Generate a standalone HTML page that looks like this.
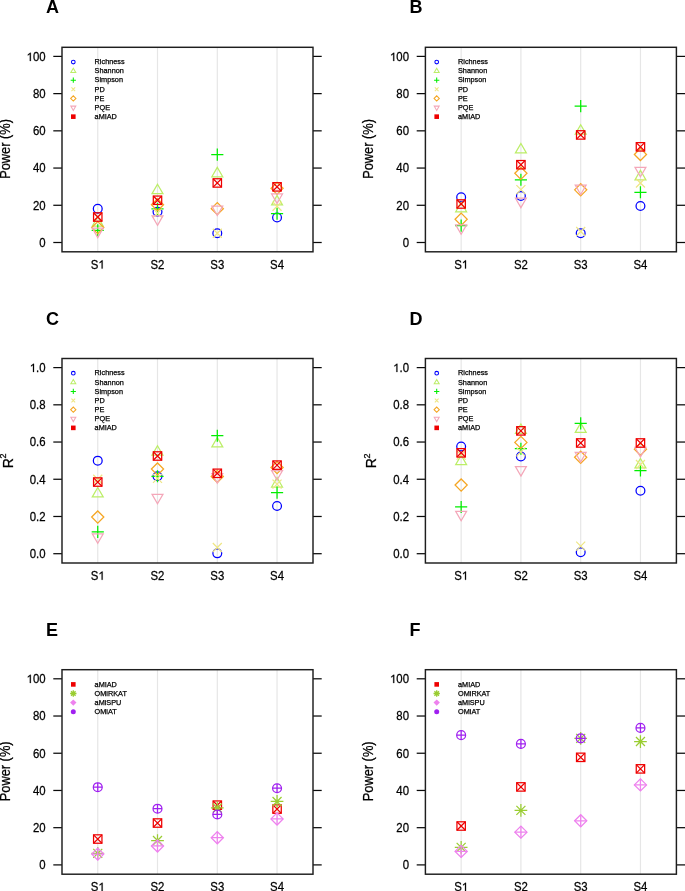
<!DOCTYPE html>
<html><head><meta charset="utf-8"><title>Figure</title>
<style>html,body{margin:0;padding:0;background:#fff;}body{width:685px;height:891px;overflow:hidden;}svg{display:block;will-change:transform;}text{fill:#000;}text,.o{stroke:#000;stroke-width:0.25px;vector-effect:non-scaling-stroke;}text[font-weight=bold]{stroke:none;}</style></head><body>
<svg width="685" height="891" viewBox="0 0 685 891" font-family='"Liberation Sans", sans-serif' fill="#000">
<line x1="97.75" y1="47.3" x2="97.75" y2="251.8" stroke="#E6E6E6" stroke-width="1.2"/>
<line x1="157.5" y1="47.3" x2="157.5" y2="251.8" stroke="#E6E6E6" stroke-width="1.2"/>
<line x1="217.3" y1="47.3" x2="217.3" y2="251.8" stroke="#E6E6E6" stroke-width="1.2"/>
<line x1="277.05" y1="47.3" x2="277.05" y2="251.8" stroke="#E6E6E6" stroke-width="1.2"/>
<line x1="53.3" y1="242.5" x2="62" y2="242.5" stroke="#0a0a0a" stroke-width="1.25"/>
<line x1="313" y1="242.5" x2="321.7" y2="242.5" stroke="#0a0a0a" stroke-width="1.25"/>
<text transform="translate(39.26 247) scale(0.95 1)" font-size="12">0</text>
<line x1="53.3" y1="205.28" x2="62" y2="205.28" stroke="#0a0a0a" stroke-width="1.25"/>
<line x1="313" y1="205.28" x2="321.7" y2="205.28" stroke="#0a0a0a" stroke-width="1.25"/>
<text transform="translate(32.92 210) scale(0.95 1)" font-size="12">20</text>
<line x1="53.3" y1="168.06" x2="62" y2="168.06" stroke="#0a0a0a" stroke-width="1.25"/>
<line x1="313" y1="168.06" x2="321.7" y2="168.06" stroke="#0a0a0a" stroke-width="1.25"/>
<text transform="translate(32.92 172) scale(0.95 1)" font-size="12">40</text>
<line x1="53.3" y1="130.84" x2="62" y2="130.84" stroke="#0a0a0a" stroke-width="1.25"/>
<line x1="313" y1="130.84" x2="321.7" y2="130.84" stroke="#0a0a0a" stroke-width="1.25"/>
<text transform="translate(32.92 135) scale(0.95 1)" font-size="12">60</text>
<line x1="53.3" y1="93.62" x2="62" y2="93.62" stroke="#0a0a0a" stroke-width="1.25"/>
<line x1="313" y1="93.62" x2="321.7" y2="93.62" stroke="#0a0a0a" stroke-width="1.25"/>
<text transform="translate(32.92 98) scale(0.95 1)" font-size="12">80</text>
<line x1="53.3" y1="56.4" x2="62" y2="56.4" stroke="#0a0a0a" stroke-width="1.25"/>
<line x1="313" y1="56.4" x2="321.7" y2="56.4" stroke="#0a0a0a" stroke-width="1.25"/>
<path class="o" transform="translate(26.58 61) scale(0.005566 -0.005859)" d="M583 0L583 1147L223 930L223 1104L647 1409L763 1409L763 0Z"/><text transform="translate(32.92 61) scale(0.95 1)" font-size="12">00</text>
<text transform="translate(90.78 268.6) scale(0.95 1)" font-size="12">S</text><path class="o" transform="translate(98.38 268.6) scale(0.005566 -0.005859)" d="M583 0L583 1147L223 930L223 1104L647 1409L763 1409L763 0Z"/>
<text transform="translate(150.53 268.6) scale(0.95 1)" font-size="12">S2</text>
<text transform="translate(210.33 268.6) scale(0.95 1)" font-size="12">S3</text>
<text transform="translate(270.08 268.6) scale(0.95 1)" font-size="12">S4</text>
<text transform="translate(9.5 148.95) rotate(-90) scale(0.915 1)" font-size="14" text-anchor="middle">Power (%)</text>
<text x="46" y="13.3" font-size="18" font-weight="bold">A</text>
<circle cx="73.3" cy="62" r="1.85" stroke="#0000FF" stroke-width="1.05" fill="none"/>
<text x="94.6" y="64.2" font-size="7.3">Richness</text>
<polygon points="73.3,68.23 75.79,72.55 70.81,72.55" stroke="#BCEE68" stroke-width="1.05" fill="none"/>
<text x="94.6" y="73.31" font-size="7.3">Shannon</text>
<path d="M70.68 80.22H75.92M73.3 77.6V82.84" stroke="#00EE00" stroke-width="1.05" fill="none"/>
<text x="94.6" y="82.42" font-size="7.3">Simpson</text>
<path d="M71.45 87.48L75.15 91.18M71.45 91.18L75.15 87.48" stroke="#EEE685" stroke-width="1.05" fill="none"/>
<text x="94.6" y="91.53" font-size="7.3">PD</text>
<polygon points="70.68,98.44 73.3,95.82 75.92,98.44 73.3,101.06" stroke="#F5A623" stroke-width="1.05" fill="none"/>
<text x="94.6" y="100.64" font-size="7.3">PE</text>
<polygon points="73.3,110.43 75.79,106.11 70.81,106.11" stroke="#F4A7B9" stroke-width="1.05" fill="none"/>
<text x="94.6" y="109.75" font-size="7.3">PQE</text>
<rect x="71" y="114.36" width="4.6" height="4.6" fill="#EE0000"/>
<text x="94.6" y="118.86" font-size="7.3">aMIAD</text>
<circle cx="97.75" cy="208.82" r="4.4" stroke="#0000FF" stroke-width="1.25" fill="none"/>
<circle cx="157.5" cy="211.79" r="4.4" stroke="#0000FF" stroke-width="1.25" fill="none"/>
<circle cx="217.3" cy="233.19" r="4.4" stroke="#0000FF" stroke-width="1.25" fill="none"/>
<circle cx="277.05" cy="217.56" r="4.4" stroke="#0000FF" stroke-width="1.25" fill="none"/>
<polygon points="97.75,216.66 103.2,226.11 92.3,226.11" stroke="#BCEE68" stroke-width="1.25" fill="none"/>
<polygon points="157.5,184.28 162.95,193.73 152.05,193.73" stroke="#BCEE68" stroke-width="1.25" fill="none"/>
<polygon points="217.3,167.34 222.75,176.79 211.85,176.79" stroke="#BCEE68" stroke-width="1.25" fill="none"/>
<polygon points="277.05,195.45 282.5,204.89 271.6,204.89" stroke="#BCEE68" stroke-width="1.25" fill="none"/>
<path d="M91.67 230.4H103.83M97.75 224.32V236.48" stroke="#00EE00" stroke-width="1.25" fill="none"/>
<path d="M151.42 208.82H163.58M157.5 202.73V214.9" stroke="#00EE00" stroke-width="1.25" fill="none"/>
<path d="M211.22 154.66H223.38M217.3 148.58V160.74" stroke="#00EE00" stroke-width="1.25" fill="none"/>
<path d="M270.97 213.65H283.13M277.05 207.57V219.74" stroke="#00EE00" stroke-width="1.25" fill="none"/>
<path d="M93.25 212.5L102.25 221.5M93.25 221.5L102.25 212.5" stroke="#EEE685" stroke-width="1.25" fill="none"/>
<path d="M153 208.6L162 217.6M153 217.6L162 208.6" stroke="#EEE685" stroke-width="1.25" fill="none"/>
<path d="M212.8 228.69L221.8 237.69M212.8 237.69L221.8 228.69" stroke="#EEE685" stroke-width="1.25" fill="none"/>
<path d="M272.55 201.71L281.55 210.71M272.55 210.71L281.55 201.71" stroke="#EEE685" stroke-width="1.25" fill="none"/>
<polygon points="91.67,227.61 97.75,221.53 103.83,227.61 97.75,233.69" stroke="#F5A623" stroke-width="1.25" fill="none"/>
<polygon points="151.42,204.72 157.5,198.64 163.58,204.72 157.5,210.8" stroke="#F5A623" stroke-width="1.25" fill="none"/>
<polygon points="211.22,208.63 217.3,202.55 223.38,208.63 217.3,214.71" stroke="#F5A623" stroke-width="1.25" fill="none"/>
<polygon points="270.97,188.34 277.05,182.26 283.13,188.34 277.05,194.43" stroke="#F5A623" stroke-width="1.25" fill="none"/>
<polygon points="97.75,237.63 103.2,228.18 92.3,228.18" stroke="#F4A7B9" stroke-width="1.25" fill="none"/>
<polygon points="157.5,225.35 162.95,215.9 152.05,215.9" stroke="#F4A7B9" stroke-width="1.25" fill="none"/>
<polygon points="217.3,215.49 222.75,206.04 211.85,206.04" stroke="#F4A7B9" stroke-width="1.25" fill="none"/>
<polygon points="277.05,203.39 282.5,193.94 271.6,193.94" stroke="#F4A7B9" stroke-width="1.25" fill="none"/>
<rect x="93.55" y="212.8" width="8.4" height="8.4" stroke="#EE0000" stroke-width="1.25" fill="none"/><path d="M93.55 212.8L101.95 221.2M93.55 221.2L101.95 212.8" stroke="#EE0000" stroke-width="1.25" fill="none"/>
<rect x="153.3" y="196.06" width="8.4" height="8.4" stroke="#EE0000" stroke-width="1.25" fill="none"/><path d="M153.3 196.06L161.7 204.46M153.3 204.46L161.7 196.06" stroke="#EE0000" stroke-width="1.25" fill="none"/>
<rect x="213.1" y="178.75" width="8.4" height="8.4" stroke="#EE0000" stroke-width="1.25" fill="none"/><path d="M213.1 178.75L221.5 187.15M213.1 187.15L221.5 178.75" stroke="#EE0000" stroke-width="1.25" fill="none"/>
<rect x="272.85" y="182.66" width="8.4" height="8.4" stroke="#EE0000" stroke-width="1.25" fill="none"/><path d="M272.85 182.66L281.25 191.06M272.85 191.06L281.25 182.66" stroke="#EE0000" stroke-width="1.25" fill="none"/>
<rect x="62" y="47.3" width="251" height="204.5" fill="none" stroke="#1e1e1e" stroke-width="1.45"/>
<line x1="461.15" y1="47.3" x2="461.15" y2="251.8" stroke="#E6E6E6" stroke-width="1.2"/>
<line x1="520.9" y1="47.3" x2="520.9" y2="251.8" stroke="#E6E6E6" stroke-width="1.2"/>
<line x1="580.7" y1="47.3" x2="580.7" y2="251.8" stroke="#E6E6E6" stroke-width="1.2"/>
<line x1="640.45" y1="47.3" x2="640.45" y2="251.8" stroke="#E6E6E6" stroke-width="1.2"/>
<line x1="416.7" y1="242.5" x2="425.4" y2="242.5" stroke="#0a0a0a" stroke-width="1.25"/>
<line x1="676.4" y1="242.5" x2="685.1" y2="242.5" stroke="#0a0a0a" stroke-width="1.25"/>
<text transform="translate(402.66 247) scale(0.95 1)" font-size="12">0</text>
<line x1="416.7" y1="205.28" x2="425.4" y2="205.28" stroke="#0a0a0a" stroke-width="1.25"/>
<line x1="676.4" y1="205.28" x2="685.1" y2="205.28" stroke="#0a0a0a" stroke-width="1.25"/>
<text transform="translate(396.32 210) scale(0.95 1)" font-size="12">20</text>
<line x1="416.7" y1="168.06" x2="425.4" y2="168.06" stroke="#0a0a0a" stroke-width="1.25"/>
<line x1="676.4" y1="168.06" x2="685.1" y2="168.06" stroke="#0a0a0a" stroke-width="1.25"/>
<text transform="translate(396.32 172) scale(0.95 1)" font-size="12">40</text>
<line x1="416.7" y1="130.84" x2="425.4" y2="130.84" stroke="#0a0a0a" stroke-width="1.25"/>
<line x1="676.4" y1="130.84" x2="685.1" y2="130.84" stroke="#0a0a0a" stroke-width="1.25"/>
<text transform="translate(396.32 135) scale(0.95 1)" font-size="12">60</text>
<line x1="416.7" y1="93.62" x2="425.4" y2="93.62" stroke="#0a0a0a" stroke-width="1.25"/>
<line x1="676.4" y1="93.62" x2="685.1" y2="93.62" stroke="#0a0a0a" stroke-width="1.25"/>
<text transform="translate(396.32 98) scale(0.95 1)" font-size="12">80</text>
<line x1="416.7" y1="56.4" x2="425.4" y2="56.4" stroke="#0a0a0a" stroke-width="1.25"/>
<line x1="676.4" y1="56.4" x2="685.1" y2="56.4" stroke="#0a0a0a" stroke-width="1.25"/>
<path class="o" transform="translate(389.98 61) scale(0.005566 -0.005859)" d="M583 0L583 1147L223 930L223 1104L647 1409L763 1409L763 0Z"/><text transform="translate(396.32 61) scale(0.95 1)" font-size="12">00</text>
<text transform="translate(454.18 268.6) scale(0.95 1)" font-size="12">S</text><path class="o" transform="translate(461.78 268.6) scale(0.005566 -0.005859)" d="M583 0L583 1147L223 930L223 1104L647 1409L763 1409L763 0Z"/>
<text transform="translate(513.93 268.6) scale(0.95 1)" font-size="12">S2</text>
<text transform="translate(573.73 268.6) scale(0.95 1)" font-size="12">S3</text>
<text transform="translate(633.48 268.6) scale(0.95 1)" font-size="12">S4</text>
<text transform="translate(372.9 148.95) rotate(-90) scale(0.915 1)" font-size="14" text-anchor="middle">Power (%)</text>
<text x="409.4" y="13.3" font-size="18" font-weight="bold">B</text>
<circle cx="436.7" cy="62" r="1.85" stroke="#0000FF" stroke-width="1.05" fill="none"/>
<text x="458" y="64.2" font-size="7.3">Richness</text>
<polygon points="436.7,68.23 439.19,72.55 434.21,72.55" stroke="#BCEE68" stroke-width="1.05" fill="none"/>
<text x="458" y="73.31" font-size="7.3">Shannon</text>
<path d="M434.08 80.22H439.32M436.7 77.6V82.84" stroke="#00EE00" stroke-width="1.05" fill="none"/>
<text x="458" y="82.42" font-size="7.3">Simpson</text>
<path d="M434.85 87.48L438.55 91.18M434.85 91.18L438.55 87.48" stroke="#EEE685" stroke-width="1.05" fill="none"/>
<text x="458" y="91.53" font-size="7.3">PD</text>
<polygon points="434.08,98.44 436.7,95.82 439.32,98.44 436.7,101.06" stroke="#F5A623" stroke-width="1.05" fill="none"/>
<text x="458" y="100.64" font-size="7.3">PE</text>
<polygon points="436.7,110.43 439.19,106.11 434.21,106.11" stroke="#F4A7B9" stroke-width="1.05" fill="none"/>
<text x="458" y="109.75" font-size="7.3">PQE</text>
<rect x="434.4" y="114.36" width="4.6" height="4.6" fill="#EE0000"/>
<text x="458" y="118.86" font-size="7.3">aMIAD</text>
<circle cx="461.15" cy="197.28" r="4.4" stroke="#0000FF" stroke-width="1.25" fill="none"/>
<circle cx="520.9" cy="195.97" r="4.4" stroke="#0000FF" stroke-width="1.25" fill="none"/>
<circle cx="580.7" cy="233.19" r="4.4" stroke="#0000FF" stroke-width="1.25" fill="none"/>
<circle cx="640.45" cy="206.02" r="4.4" stroke="#0000FF" stroke-width="1.25" fill="none"/>
<polygon points="461.15,202.33 466.6,211.78 455.7,211.78" stroke="#BCEE68" stroke-width="1.25" fill="none"/>
<polygon points="520.9,143.52 526.35,152.97 515.45,152.97" stroke="#BCEE68" stroke-width="1.25" fill="none"/>
<polygon points="580.7,124.73 586.15,134.18 575.25,134.18" stroke="#BCEE68" stroke-width="1.25" fill="none"/>
<polygon points="640.45,170.32 645.9,179.77 635,179.77" stroke="#BCEE68" stroke-width="1.25" fill="none"/>
<path d="M455.07 225.56H467.23M461.15 219.48V231.65" stroke="#00EE00" stroke-width="1.25" fill="none"/>
<path d="M514.82 179.78H526.98M520.9 173.7V185.87" stroke="#00EE00" stroke-width="1.25" fill="none"/>
<path d="M574.62 106.09H586.78M580.7 100.01V112.17" stroke="#00EE00" stroke-width="1.25" fill="none"/>
<path d="M634.37 192.25H646.53M640.45 186.17V198.33" stroke="#00EE00" stroke-width="1.25" fill="none"/>
<path d="M456.65 199.48L465.65 208.48M456.65 208.48L465.65 199.48" stroke="#EEE685" stroke-width="1.25" fill="none"/>
<path d="M516.4 185.15L525.4 194.15M516.4 194.15L525.4 185.15" stroke="#EEE685" stroke-width="1.25" fill="none"/>
<path d="M576.2 227.02L585.2 236.02M576.2 236.02L585.2 227.02" stroke="#EEE685" stroke-width="1.25" fill="none"/>
<path d="M635.95 178.45L644.95 187.45M635.95 187.45L644.95 178.45" stroke="#EEE685" stroke-width="1.25" fill="none"/>
<polygon points="455.07,219.24 461.15,213.16 467.23,219.24 461.15,225.32" stroke="#F5A623" stroke-width="1.25" fill="none"/>
<polygon points="514.82,173.27 520.9,167.19 526.98,173.27 520.9,179.35" stroke="#F5A623" stroke-width="1.25" fill="none"/>
<polygon points="574.62,189.83 580.7,183.75 586.78,189.83 580.7,195.91" stroke="#F5A623" stroke-width="1.25" fill="none"/>
<polygon points="634.37,154.47 640.45,148.39 646.53,154.47 640.45,160.56" stroke="#F5A623" stroke-width="1.25" fill="none"/>
<polygon points="461.15,234.28 466.6,224.84 455.7,224.84" stroke="#F4A7B9" stroke-width="1.25" fill="none"/>
<polygon points="520.9,207.67 526.35,198.22 515.45,198.22" stroke="#F4A7B9" stroke-width="1.25" fill="none"/>
<polygon points="580.7,194.46 586.15,185.01 575.25,185.01" stroke="#F4A7B9" stroke-width="1.25" fill="none"/>
<polygon points="640.45,176.78 645.9,167.33 635,167.33" stroke="#F4A7B9" stroke-width="1.25" fill="none"/>
<rect x="456.95" y="199.78" width="8.4" height="8.4" stroke="#EE0000" stroke-width="1.25" fill="none"/><path d="M456.95 199.78L465.35 208.18M456.95 208.18L465.35 199.78" stroke="#EE0000" stroke-width="1.25" fill="none"/>
<rect x="516.7" y="160.51" width="8.4" height="8.4" stroke="#EE0000" stroke-width="1.25" fill="none"/><path d="M516.7 160.51L525.1 168.91M516.7 168.91L525.1 160.51" stroke="#EE0000" stroke-width="1.25" fill="none"/>
<rect x="576.5" y="130.73" width="8.4" height="8.4" stroke="#EE0000" stroke-width="1.25" fill="none"/><path d="M576.5 130.73L584.9 139.13M576.5 139.13L584.9 130.73" stroke="#EE0000" stroke-width="1.25" fill="none"/>
<rect x="636.25" y="142.64" width="8.4" height="8.4" stroke="#EE0000" stroke-width="1.25" fill="none"/><path d="M636.25 142.64L644.65 151.04M636.25 151.04L644.65 142.64" stroke="#EE0000" stroke-width="1.25" fill="none"/>
<rect x="425.4" y="47.3" width="251" height="204.5" fill="none" stroke="#1e1e1e" stroke-width="1.45"/>
<line x1="97.75" y1="358.5" x2="97.75" y2="563" stroke="#E6E6E6" stroke-width="1.2"/>
<line x1="157.5" y1="358.5" x2="157.5" y2="563" stroke="#E6E6E6" stroke-width="1.2"/>
<line x1="217.3" y1="358.5" x2="217.3" y2="563" stroke="#E6E6E6" stroke-width="1.2"/>
<line x1="277.05" y1="358.5" x2="277.05" y2="563" stroke="#E6E6E6" stroke-width="1.2"/>
<line x1="53.3" y1="553.7" x2="62" y2="553.7" stroke="#0a0a0a" stroke-width="1.25"/>
<line x1="313" y1="553.7" x2="321.7" y2="553.7" stroke="#0a0a0a" stroke-width="1.25"/>
<text transform="translate(29.75 558) scale(0.95 1)" font-size="12">0.0</text>
<line x1="53.3" y1="516.48" x2="62" y2="516.48" stroke="#0a0a0a" stroke-width="1.25"/>
<line x1="313" y1="516.48" x2="321.7" y2="516.48" stroke="#0a0a0a" stroke-width="1.25"/>
<text transform="translate(29.75 521) scale(0.95 1)" font-size="12">0.2</text>
<line x1="53.3" y1="479.26" x2="62" y2="479.26" stroke="#0a0a0a" stroke-width="1.25"/>
<line x1="313" y1="479.26" x2="321.7" y2="479.26" stroke="#0a0a0a" stroke-width="1.25"/>
<text transform="translate(29.75 484) scale(0.95 1)" font-size="12">0.4</text>
<line x1="53.3" y1="442.04" x2="62" y2="442.04" stroke="#0a0a0a" stroke-width="1.25"/>
<line x1="313" y1="442.04" x2="321.7" y2="442.04" stroke="#0a0a0a" stroke-width="1.25"/>
<text transform="translate(29.75 446) scale(0.95 1)" font-size="12">0.6</text>
<line x1="53.3" y1="404.82" x2="62" y2="404.82" stroke="#0a0a0a" stroke-width="1.25"/>
<line x1="313" y1="404.82" x2="321.7" y2="404.82" stroke="#0a0a0a" stroke-width="1.25"/>
<text transform="translate(29.75 409) scale(0.95 1)" font-size="12">0.8</text>
<line x1="53.3" y1="367.6" x2="62" y2="367.6" stroke="#0a0a0a" stroke-width="1.25"/>
<line x1="313" y1="367.6" x2="321.7" y2="367.6" stroke="#0a0a0a" stroke-width="1.25"/>
<path class="o" transform="translate(29.75 372) scale(0.005566 -0.005859)" d="M583 0L583 1147L223 930L223 1104L647 1409L763 1409L763 0Z"/><text transform="translate(36.09 372) scale(0.95 1)" font-size="12">.0</text>
<text transform="translate(90.78 579.8) scale(0.95 1)" font-size="12">S</text><path class="o" transform="translate(98.38 579.8) scale(0.005566 -0.005859)" d="M583 0L583 1147L223 930L223 1104L647 1409L763 1409L763 0Z"/>
<text transform="translate(150.53 579.8) scale(0.95 1)" font-size="12">S2</text>
<text transform="translate(210.33 579.8) scale(0.95 1)" font-size="12">S3</text>
<text transform="translate(270.08 579.8) scale(0.95 1)" font-size="12">S4</text>
<text transform="translate(13 468.15) rotate(-90)" font-size="14">R</text>
<text transform="translate(6.3 458.45) rotate(-90)" font-size="9">2</text>
<text x="46" y="324.5" font-size="18" font-weight="bold">C</text>
<circle cx="73.3" cy="373.2" r="1.85" stroke="#0000FF" stroke-width="1.05" fill="none"/>
<text x="94.6" y="375.4" font-size="7.3">Richness</text>
<polygon points="73.3,379.43 75.79,383.75 70.81,383.75" stroke="#BCEE68" stroke-width="1.05" fill="none"/>
<text x="94.6" y="384.51" font-size="7.3">Shannon</text>
<path d="M70.68 391.42H75.92M73.3 388.8V394.04" stroke="#00EE00" stroke-width="1.05" fill="none"/>
<text x="94.6" y="393.62" font-size="7.3">Simpson</text>
<path d="M71.45 398.68L75.15 402.38M71.45 402.38L75.15 398.68" stroke="#EEE685" stroke-width="1.05" fill="none"/>
<text x="94.6" y="402.73" font-size="7.3">PD</text>
<polygon points="70.68,409.64 73.3,407.02 75.92,409.64 73.3,412.26" stroke="#F5A623" stroke-width="1.05" fill="none"/>
<text x="94.6" y="411.84" font-size="7.3">PE</text>
<polygon points="73.3,421.63 75.79,417.31 70.81,417.31" stroke="#F4A7B9" stroke-width="1.05" fill="none"/>
<text x="94.6" y="420.95" font-size="7.3">PQE</text>
<rect x="71" y="425.56" width="4.6" height="4.6" fill="#EE0000"/>
<text x="94.6" y="430.06" font-size="7.3">aMIAD</text>
<circle cx="97.75" cy="460.65" r="4.4" stroke="#0000FF" stroke-width="1.25" fill="none"/>
<circle cx="157.5" cy="476.28" r="4.4" stroke="#0000FF" stroke-width="1.25" fill="none"/>
<circle cx="217.3" cy="553.33" r="4.4" stroke="#0000FF" stroke-width="1.25" fill="none"/>
<circle cx="277.05" cy="506.06" r="4.4" stroke="#0000FF" stroke-width="1.25" fill="none"/>
<polygon points="97.75,487.48 103.2,496.92 92.3,496.92" stroke="#BCEE68" stroke-width="1.25" fill="none"/>
<polygon points="157.5,445.79 162.95,455.24 152.05,455.24" stroke="#BCEE68" stroke-width="1.25" fill="none"/>
<polygon points="217.3,437.42 222.75,446.86 211.85,446.86" stroke="#BCEE68" stroke-width="1.25" fill="none"/>
<polygon points="277.05,477.61 282.5,487.06 271.6,487.06" stroke="#BCEE68" stroke-width="1.25" fill="none"/>
<path d="M91.67 531.93H103.83M97.75 525.85V538.01" stroke="#00EE00" stroke-width="1.25" fill="none"/>
<path d="M151.42 476.28H163.58M157.5 470.2V482.36" stroke="#00EE00" stroke-width="1.25" fill="none"/>
<path d="M211.22 435.71H223.38M217.3 429.63V441.79" stroke="#00EE00" stroke-width="1.25" fill="none"/>
<path d="M270.97 492.66H283.13M277.05 486.58V498.74" stroke="#00EE00" stroke-width="1.25" fill="none"/>
<path d="M93.25 474.76L102.25 483.76M93.25 483.76L102.25 474.76" stroke="#EEE685" stroke-width="1.25" fill="none"/>
<path d="M153 473.83L162 482.83M153 482.83L162 473.83" stroke="#EEE685" stroke-width="1.25" fill="none"/>
<path d="M212.8 543.06L221.8 552.06M212.8 552.06L221.8 543.06" stroke="#EEE685" stroke-width="1.25" fill="none"/>
<path d="M272.55 479.6L281.55 488.6M272.55 488.6L281.55 479.6" stroke="#EEE685" stroke-width="1.25" fill="none"/>
<polygon points="91.67,517.04 97.75,510.96 103.83,517.04 97.75,523.12" stroke="#F5A623" stroke-width="1.25" fill="none"/>
<polygon points="151.42,469.02 157.5,462.94 163.58,469.02 157.5,475.11" stroke="#F5A623" stroke-width="1.25" fill="none"/>
<polygon points="211.22,476.47 217.3,470.39 223.38,476.47 217.3,482.55" stroke="#F5A623" stroke-width="1.25" fill="none"/>
<polygon points="270.97,467.54 277.05,461.45 283.13,467.54 277.05,473.62" stroke="#F5A623" stroke-width="1.25" fill="none"/>
<polygon points="97.75,543.25 103.2,533.8 92.3,533.8" stroke="#F4A7B9" stroke-width="1.25" fill="none"/>
<polygon points="157.5,503.8 162.95,494.35 152.05,494.35" stroke="#F4A7B9" stroke-width="1.25" fill="none"/>
<polygon points="217.3,483.14 222.75,473.69 211.85,473.69" stroke="#F4A7B9" stroke-width="1.25" fill="none"/>
<polygon points="277.05,479.98 282.5,470.53 271.6,470.53" stroke="#F4A7B9" stroke-width="1.25" fill="none"/>
<rect x="93.55" y="477.85" width="8.4" height="8.4" stroke="#EE0000" stroke-width="1.25" fill="none"/><path d="M93.55 477.85L101.95 486.25M93.55 486.25L101.95 477.85" stroke="#EE0000" stroke-width="1.25" fill="none"/>
<rect x="153.3" y="451.8" width="8.4" height="8.4" stroke="#EE0000" stroke-width="1.25" fill="none"/><path d="M153.3 451.8L161.7 460.2M153.3 460.2L161.7 451.8" stroke="#EE0000" stroke-width="1.25" fill="none"/>
<rect x="213.1" y="469.1" width="8.4" height="8.4" stroke="#EE0000" stroke-width="1.25" fill="none"/><path d="M213.1 469.1L221.5 477.5M213.1 477.5L221.5 469.1" stroke="#EE0000" stroke-width="1.25" fill="none"/>
<rect x="272.85" y="460.92" width="8.4" height="8.4" stroke="#EE0000" stroke-width="1.25" fill="none"/><path d="M272.85 460.92L281.25 469.32M272.85 469.32L281.25 460.92" stroke="#EE0000" stroke-width="1.25" fill="none"/>
<rect x="62" y="358.5" width="251" height="204.5" fill="none" stroke="#1e1e1e" stroke-width="1.45"/>
<line x1="461.15" y1="358.5" x2="461.15" y2="563" stroke="#E6E6E6" stroke-width="1.2"/>
<line x1="520.9" y1="358.5" x2="520.9" y2="563" stroke="#E6E6E6" stroke-width="1.2"/>
<line x1="580.7" y1="358.5" x2="580.7" y2="563" stroke="#E6E6E6" stroke-width="1.2"/>
<line x1="640.45" y1="358.5" x2="640.45" y2="563" stroke="#E6E6E6" stroke-width="1.2"/>
<line x1="416.7" y1="553.7" x2="425.4" y2="553.7" stroke="#0a0a0a" stroke-width="1.25"/>
<line x1="676.4" y1="553.7" x2="685.1" y2="553.7" stroke="#0a0a0a" stroke-width="1.25"/>
<text transform="translate(393.15 558) scale(0.95 1)" font-size="12">0.0</text>
<line x1="416.7" y1="516.48" x2="425.4" y2="516.48" stroke="#0a0a0a" stroke-width="1.25"/>
<line x1="676.4" y1="516.48" x2="685.1" y2="516.48" stroke="#0a0a0a" stroke-width="1.25"/>
<text transform="translate(393.15 521) scale(0.95 1)" font-size="12">0.2</text>
<line x1="416.7" y1="479.26" x2="425.4" y2="479.26" stroke="#0a0a0a" stroke-width="1.25"/>
<line x1="676.4" y1="479.26" x2="685.1" y2="479.26" stroke="#0a0a0a" stroke-width="1.25"/>
<text transform="translate(393.15 484) scale(0.95 1)" font-size="12">0.4</text>
<line x1="416.7" y1="442.04" x2="425.4" y2="442.04" stroke="#0a0a0a" stroke-width="1.25"/>
<line x1="676.4" y1="442.04" x2="685.1" y2="442.04" stroke="#0a0a0a" stroke-width="1.25"/>
<text transform="translate(393.15 446) scale(0.95 1)" font-size="12">0.6</text>
<line x1="416.7" y1="404.82" x2="425.4" y2="404.82" stroke="#0a0a0a" stroke-width="1.25"/>
<line x1="676.4" y1="404.82" x2="685.1" y2="404.82" stroke="#0a0a0a" stroke-width="1.25"/>
<text transform="translate(393.15 409) scale(0.95 1)" font-size="12">0.8</text>
<line x1="416.7" y1="367.6" x2="425.4" y2="367.6" stroke="#0a0a0a" stroke-width="1.25"/>
<line x1="676.4" y1="367.6" x2="685.1" y2="367.6" stroke="#0a0a0a" stroke-width="1.25"/>
<path class="o" transform="translate(393.15 372) scale(0.005566 -0.005859)" d="M583 0L583 1147L223 930L223 1104L647 1409L763 1409L763 0Z"/><text transform="translate(399.49 372) scale(0.95 1)" font-size="12">.0</text>
<text transform="translate(454.18 579.8) scale(0.95 1)" font-size="12">S</text><path class="o" transform="translate(461.78 579.8) scale(0.005566 -0.005859)" d="M583 0L583 1147L223 930L223 1104L647 1409L763 1409L763 0Z"/>
<text transform="translate(513.93 579.8) scale(0.95 1)" font-size="12">S2</text>
<text transform="translate(573.73 579.8) scale(0.95 1)" font-size="12">S3</text>
<text transform="translate(633.48 579.8) scale(0.95 1)" font-size="12">S4</text>
<text transform="translate(376.4 468.15) rotate(-90)" font-size="14">R</text>
<text transform="translate(369.7 458.45) rotate(-90)" font-size="9">2</text>
<text x="409.4" y="324.5" font-size="18" font-weight="bold">D</text>
<circle cx="436.7" cy="373.2" r="1.85" stroke="#0000FF" stroke-width="1.05" fill="none"/>
<text x="458" y="375.4" font-size="7.3">Richness</text>
<polygon points="436.7,379.43 439.19,383.75 434.21,383.75" stroke="#BCEE68" stroke-width="1.05" fill="none"/>
<text x="458" y="384.51" font-size="7.3">Shannon</text>
<path d="M434.08 391.42H439.32M436.7 388.8V394.04" stroke="#00EE00" stroke-width="1.05" fill="none"/>
<text x="458" y="393.62" font-size="7.3">Simpson</text>
<path d="M434.85 398.68L438.55 402.38M434.85 402.38L438.55 398.68" stroke="#EEE685" stroke-width="1.05" fill="none"/>
<text x="458" y="402.73" font-size="7.3">PD</text>
<polygon points="434.08,409.64 436.7,407.02 439.32,409.64 436.7,412.26" stroke="#F5A623" stroke-width="1.05" fill="none"/>
<text x="458" y="411.84" font-size="7.3">PE</text>
<polygon points="436.7,421.63 439.19,417.31 434.21,417.31" stroke="#F4A7B9" stroke-width="1.05" fill="none"/>
<text x="458" y="420.95" font-size="7.3">PQE</text>
<rect x="434.4" y="425.56" width="4.6" height="4.6" fill="#EE0000"/>
<text x="458" y="430.06" font-size="7.3">aMIAD</text>
<circle cx="461.15" cy="446.51" r="4.4" stroke="#0000FF" stroke-width="1.25" fill="none"/>
<circle cx="520.9" cy="456.56" r="4.4" stroke="#0000FF" stroke-width="1.25" fill="none"/>
<circle cx="580.7" cy="552.3" r="4.4" stroke="#0000FF" stroke-width="1.25" fill="none"/>
<circle cx="640.45" cy="490.8" r="4.4" stroke="#0000FF" stroke-width="1.25" fill="none"/>
<polygon points="461.15,455.28 466.6,464.73 455.7,464.73" stroke="#BCEE68" stroke-width="1.25" fill="none"/>
<polygon points="520.9,424.02 526.35,433.46 515.45,433.46" stroke="#BCEE68" stroke-width="1.25" fill="none"/>
<polygon points="580.7,422.9 586.15,432.35 575.25,432.35" stroke="#BCEE68" stroke-width="1.25" fill="none"/>
<polygon points="640.45,458.45 645.9,467.89 635,467.89" stroke="#BCEE68" stroke-width="1.25" fill="none"/>
<path d="M455.07 506.99H467.23M461.15 500.91V513.07" stroke="#00EE00" stroke-width="1.25" fill="none"/>
<path d="M514.82 448.74H526.98M520.9 442.66V454.82" stroke="#00EE00" stroke-width="1.25" fill="none"/>
<path d="M574.62 423.43H586.78M580.7 417.35V429.51" stroke="#00EE00" stroke-width="1.25" fill="none"/>
<path d="M634.37 470.51H646.53M640.45 464.43V476.59" stroke="#00EE00" stroke-width="1.25" fill="none"/>
<path d="M456.65 450.57L465.65 459.57M456.65 459.57L465.65 450.57" stroke="#EEE685" stroke-width="1.25" fill="none"/>
<path d="M516.4 447.4L525.4 456.4M516.4 456.4L525.4 447.4" stroke="#EEE685" stroke-width="1.25" fill="none"/>
<path d="M576.2 541.57L585.2 550.57M576.2 550.57L585.2 541.57" stroke="#EEE685" stroke-width="1.25" fill="none"/>
<path d="M635.95 460.06L644.95 469.06M635.95 469.06L644.95 460.06" stroke="#EEE685" stroke-width="1.25" fill="none"/>
<polygon points="455.07,485.03 461.15,478.95 467.23,485.03 461.15,491.11" stroke="#F5A623" stroke-width="1.25" fill="none"/>
<polygon points="514.82,442.41 520.9,436.33 526.98,442.41 520.9,448.49" stroke="#F5A623" stroke-width="1.25" fill="none"/>
<polygon points="574.62,457.3 580.7,451.22 586.78,457.3 580.7,463.38" stroke="#F5A623" stroke-width="1.25" fill="none"/>
<polygon points="634.37,449.3 640.45,443.22 646.53,449.3 640.45,455.38" stroke="#F5A623" stroke-width="1.25" fill="none"/>
<polygon points="461.15,520.73 466.6,511.28 455.7,511.28" stroke="#F4A7B9" stroke-width="1.25" fill="none"/>
<polygon points="520.9,476.07 526.35,466.62 515.45,466.62" stroke="#F4A7B9" stroke-width="1.25" fill="none"/>
<polygon points="580.7,461.92 586.15,452.48 575.25,452.48" stroke="#F4A7B9" stroke-width="1.25" fill="none"/>
<polygon points="640.45,456.9 645.9,447.45 635,447.45" stroke="#F4A7B9" stroke-width="1.25" fill="none"/>
<rect x="456.95" y="448.63" width="8.4" height="8.4" stroke="#EE0000" stroke-width="1.25" fill="none"/><path d="M456.95 448.63L465.35 457.03M456.95 457.03L465.35 448.63" stroke="#EE0000" stroke-width="1.25" fill="none"/>
<rect x="516.7" y="426.67" width="8.4" height="8.4" stroke="#EE0000" stroke-width="1.25" fill="none"/><path d="M516.7 426.67L525.1 435.07M516.7 435.07L525.1 426.67" stroke="#EE0000" stroke-width="1.25" fill="none"/>
<rect x="576.5" y="438.77" width="8.4" height="8.4" stroke="#EE0000" stroke-width="1.25" fill="none"/><path d="M576.5 438.77L584.9 447.17M576.5 447.17L584.9 438.77" stroke="#EE0000" stroke-width="1.25" fill="none"/>
<rect x="636.25" y="438.77" width="8.4" height="8.4" stroke="#EE0000" stroke-width="1.25" fill="none"/><path d="M636.25 438.77L644.65 447.17M636.25 447.17L644.65 438.77" stroke="#EE0000" stroke-width="1.25" fill="none"/>
<rect x="425.4" y="358.5" width="251" height="204.5" fill="none" stroke="#1e1e1e" stroke-width="1.45"/>
<line x1="97.75" y1="669.7" x2="97.75" y2="874.2" stroke="#E6E6E6" stroke-width="1.2"/>
<line x1="157.5" y1="669.7" x2="157.5" y2="874.2" stroke="#E6E6E6" stroke-width="1.2"/>
<line x1="217.3" y1="669.7" x2="217.3" y2="874.2" stroke="#E6E6E6" stroke-width="1.2"/>
<line x1="277.05" y1="669.7" x2="277.05" y2="874.2" stroke="#E6E6E6" stroke-width="1.2"/>
<line x1="53.3" y1="864.9" x2="62" y2="864.9" stroke="#0a0a0a" stroke-width="1.25"/>
<line x1="313" y1="864.9" x2="321.7" y2="864.9" stroke="#0a0a0a" stroke-width="1.25"/>
<text transform="translate(39.26 869) scale(0.95 1)" font-size="12">0</text>
<line x1="53.3" y1="827.68" x2="62" y2="827.68" stroke="#0a0a0a" stroke-width="1.25"/>
<line x1="313" y1="827.68" x2="321.7" y2="827.68" stroke="#0a0a0a" stroke-width="1.25"/>
<text transform="translate(32.92 832) scale(0.95 1)" font-size="12">20</text>
<line x1="53.3" y1="790.46" x2="62" y2="790.46" stroke="#0a0a0a" stroke-width="1.25"/>
<line x1="313" y1="790.46" x2="321.7" y2="790.46" stroke="#0a0a0a" stroke-width="1.25"/>
<text transform="translate(32.92 795) scale(0.95 1)" font-size="12">40</text>
<line x1="53.3" y1="753.24" x2="62" y2="753.24" stroke="#0a0a0a" stroke-width="1.25"/>
<line x1="313" y1="753.24" x2="321.7" y2="753.24" stroke="#0a0a0a" stroke-width="1.25"/>
<text transform="translate(32.92 758) scale(0.95 1)" font-size="12">60</text>
<line x1="53.3" y1="716.02" x2="62" y2="716.02" stroke="#0a0a0a" stroke-width="1.25"/>
<line x1="313" y1="716.02" x2="321.7" y2="716.02" stroke="#0a0a0a" stroke-width="1.25"/>
<text transform="translate(32.92 720) scale(0.95 1)" font-size="12">80</text>
<line x1="53.3" y1="678.8" x2="62" y2="678.8" stroke="#0a0a0a" stroke-width="1.25"/>
<line x1="313" y1="678.8" x2="321.7" y2="678.8" stroke="#0a0a0a" stroke-width="1.25"/>
<path class="o" transform="translate(26.58 683) scale(0.005566 -0.005859)" d="M583 0L583 1147L223 930L223 1104L647 1409L763 1409L763 0Z"/><text transform="translate(32.92 683) scale(0.95 1)" font-size="12">00</text>
<text transform="translate(90.78 891) scale(0.95 1)" font-size="12">S</text><path class="o" transform="translate(98.38 891) scale(0.005566 -0.005859)" d="M583 0L583 1147L223 930L223 1104L647 1409L763 1409L763 0Z"/>
<text transform="translate(150.53 891) scale(0.95 1)" font-size="12">S2</text>
<text transform="translate(210.33 891) scale(0.95 1)" font-size="12">S3</text>
<text transform="translate(270.08 891) scale(0.95 1)" font-size="12">S4</text>
<text transform="translate(9.5 771.35) rotate(-90) scale(0.915 1)" font-size="14" text-anchor="middle">Power (%)</text>
<text x="46" y="635.7" font-size="18" font-weight="bold">E</text>
<rect x="71" y="682.1" width="4.6" height="4.6" fill="#EE0000"/>
<text x="94.6" y="686.6" font-size="7.3">aMIAD</text>
<path d="M71.05 691.26L75.55 695.76M71.05 695.76L75.55 691.26M70.12 693.51H76.48M73.3 690.33V696.69" stroke="#9ACD32" stroke-width="1.3" fill="none"/>
<text x="94.6" y="695.71" font-size="7.3">OMiRKAT</text>
<polygon points="70.1,702.62 73.3,699.42 76.5,702.62 73.3,705.82" fill="#EE82EE"/>
<text x="94.6" y="704.82" font-size="7.3">aMiSPU</text>
<circle cx="73.3" cy="711.73" r="2.5" fill="#A020F0"/>
<text x="94.6" y="713.93" font-size="7.3">OMiAT</text>
<rect x="93.55" y="834.83" width="8.4" height="8.4" stroke="#EE0000" stroke-width="1.25" fill="none"/><path d="M93.55 834.83L101.95 843.23M93.55 843.23L101.95 834.83" stroke="#EE0000" stroke-width="1.25" fill="none"/>
<rect x="153.3" y="818.83" width="8.4" height="8.4" stroke="#EE0000" stroke-width="1.25" fill="none"/><path d="M153.3 818.83L161.7 827.23M153.3 827.23L161.7 818.83" stroke="#EE0000" stroke-width="1.25" fill="none"/>
<rect x="213.1" y="800.96" width="8.4" height="8.4" stroke="#EE0000" stroke-width="1.25" fill="none"/><path d="M213.1 800.96L221.5 809.36M213.1 809.36L221.5 800.96" stroke="#EE0000" stroke-width="1.25" fill="none"/>
<rect x="272.85" y="804.87" width="8.4" height="8.4" stroke="#EE0000" stroke-width="1.25" fill="none"/><path d="M272.85 804.87L281.25 813.27M272.85 813.27L281.25 804.87" stroke="#EE0000" stroke-width="1.25" fill="none"/>
<path d="M93.25 848.86L102.25 857.86M93.25 857.86L102.25 848.86M91.39 853.36H104.11M97.75 847V859.73" stroke="#9ACD32" stroke-width="1.25" fill="none"/>
<path d="M153 836.02L162 845.02M153 845.02L162 836.02M151.14 840.52H163.86M157.5 834.16V846.88" stroke="#9ACD32" stroke-width="1.25" fill="none"/>
<path d="M212.8 803.45L221.8 812.45M212.8 812.45L221.8 803.45M210.94 807.95H223.66M217.3 801.59V814.32" stroke="#9ACD32" stroke-width="1.25" fill="none"/>
<path d="M272.55 796.94L281.55 805.94M272.55 805.94L281.55 796.94M270.69 801.44H283.41M277.05 795.08V807.8" stroke="#9ACD32" stroke-width="1.25" fill="none"/>
<path d="M91.67 854.11H103.83M97.75 848.03V860.19" stroke="#EE82EE" stroke-width="1.25" fill="none"/><polygon points="91.67,854.11 97.75,848.03 103.83,854.11 97.75,860.19" stroke="#EE82EE" stroke-width="1.25" fill="none"/>
<path d="M151.42 845.92H163.58M157.5 839.84V852" stroke="#EE82EE" stroke-width="1.25" fill="none"/><polygon points="151.42,845.92 157.5,839.84 163.58,845.92 157.5,852" stroke="#EE82EE" stroke-width="1.25" fill="none"/>
<path d="M211.22 837.73H223.38M217.3 831.65V843.81" stroke="#EE82EE" stroke-width="1.25" fill="none"/><polygon points="211.22,837.73 217.3,831.65 223.38,837.73 217.3,843.81" stroke="#EE82EE" stroke-width="1.25" fill="none"/>
<path d="M270.97 818.93H283.13M277.05 812.85V825.01" stroke="#EE82EE" stroke-width="1.25" fill="none"/><polygon points="270.97,818.93 277.05,812.85 283.13,818.93 277.05,825.01" stroke="#EE82EE" stroke-width="1.25" fill="none"/>
<path d="M93.3 787.2H102.2M97.75 782.75V791.65" stroke="#A020F0" stroke-width="1.25" fill="none"/><circle cx="97.75" cy="787.2" r="4.45" stroke="#A020F0" stroke-width="1.25" fill="none"/>
<path d="M153.05 808.7H161.95M157.5 804.25V813.15" stroke="#A020F0" stroke-width="1.25" fill="none"/><circle cx="157.5" cy="808.7" r="4.45" stroke="#A020F0" stroke-width="1.25" fill="none"/>
<path d="M212.85 814.47H221.75M217.3 810.02V818.92" stroke="#A020F0" stroke-width="1.25" fill="none"/><circle cx="217.3" cy="814.47" r="4.45" stroke="#A020F0" stroke-width="1.25" fill="none"/>
<path d="M272.6 788.23H281.5M277.05 783.78V792.68" stroke="#A020F0" stroke-width="1.25" fill="none"/><circle cx="277.05" cy="788.23" r="4.45" stroke="#A020F0" stroke-width="1.25" fill="none"/>
<rect x="62" y="669.7" width="251" height="204.5" fill="none" stroke="#1e1e1e" stroke-width="1.45"/>
<line x1="461.15" y1="669.7" x2="461.15" y2="874.2" stroke="#E6E6E6" stroke-width="1.2"/>
<line x1="520.9" y1="669.7" x2="520.9" y2="874.2" stroke="#E6E6E6" stroke-width="1.2"/>
<line x1="580.7" y1="669.7" x2="580.7" y2="874.2" stroke="#E6E6E6" stroke-width="1.2"/>
<line x1="640.45" y1="669.7" x2="640.45" y2="874.2" stroke="#E6E6E6" stroke-width="1.2"/>
<line x1="416.7" y1="864.9" x2="425.4" y2="864.9" stroke="#0a0a0a" stroke-width="1.25"/>
<line x1="676.4" y1="864.9" x2="685.1" y2="864.9" stroke="#0a0a0a" stroke-width="1.25"/>
<text transform="translate(402.66 869) scale(0.95 1)" font-size="12">0</text>
<line x1="416.7" y1="827.68" x2="425.4" y2="827.68" stroke="#0a0a0a" stroke-width="1.25"/>
<line x1="676.4" y1="827.68" x2="685.1" y2="827.68" stroke="#0a0a0a" stroke-width="1.25"/>
<text transform="translate(396.32 832) scale(0.95 1)" font-size="12">20</text>
<line x1="416.7" y1="790.46" x2="425.4" y2="790.46" stroke="#0a0a0a" stroke-width="1.25"/>
<line x1="676.4" y1="790.46" x2="685.1" y2="790.46" stroke="#0a0a0a" stroke-width="1.25"/>
<text transform="translate(396.32 795) scale(0.95 1)" font-size="12">40</text>
<line x1="416.7" y1="753.24" x2="425.4" y2="753.24" stroke="#0a0a0a" stroke-width="1.25"/>
<line x1="676.4" y1="753.24" x2="685.1" y2="753.24" stroke="#0a0a0a" stroke-width="1.25"/>
<text transform="translate(396.32 758) scale(0.95 1)" font-size="12">60</text>
<line x1="416.7" y1="716.02" x2="425.4" y2="716.02" stroke="#0a0a0a" stroke-width="1.25"/>
<line x1="676.4" y1="716.02" x2="685.1" y2="716.02" stroke="#0a0a0a" stroke-width="1.25"/>
<text transform="translate(396.32 720) scale(0.95 1)" font-size="12">80</text>
<line x1="416.7" y1="678.8" x2="425.4" y2="678.8" stroke="#0a0a0a" stroke-width="1.25"/>
<line x1="676.4" y1="678.8" x2="685.1" y2="678.8" stroke="#0a0a0a" stroke-width="1.25"/>
<path class="o" transform="translate(389.98 683) scale(0.005566 -0.005859)" d="M583 0L583 1147L223 930L223 1104L647 1409L763 1409L763 0Z"/><text transform="translate(396.32 683) scale(0.95 1)" font-size="12">00</text>
<text transform="translate(454.18 891) scale(0.95 1)" font-size="12">S</text><path class="o" transform="translate(461.78 891) scale(0.005566 -0.005859)" d="M583 0L583 1147L223 930L223 1104L647 1409L763 1409L763 0Z"/>
<text transform="translate(513.93 891) scale(0.95 1)" font-size="12">S2</text>
<text transform="translate(573.73 891) scale(0.95 1)" font-size="12">S3</text>
<text transform="translate(633.48 891) scale(0.95 1)" font-size="12">S4</text>
<text transform="translate(372.9 771.35) rotate(-90) scale(0.915 1)" font-size="14" text-anchor="middle">Power (%)</text>
<text x="409.4" y="635.7" font-size="18" font-weight="bold">F</text>
<rect x="434.4" y="682.1" width="4.6" height="4.6" fill="#EE0000"/>
<text x="458" y="686.6" font-size="7.3">aMIAD</text>
<path d="M434.45 691.26L438.95 695.76M434.45 695.76L438.95 691.26M433.52 693.51H439.88M436.7 690.33V696.69" stroke="#9ACD32" stroke-width="1.3" fill="none"/>
<text x="458" y="695.71" font-size="7.3">OMiRKAT</text>
<polygon points="433.5,702.62 436.7,699.42 439.9,702.62 436.7,705.82" fill="#EE82EE"/>
<text x="458" y="704.82" font-size="7.3">aMiSPU</text>
<circle cx="436.7" cy="711.73" r="2.5" fill="#A020F0"/>
<text x="458" y="713.93" font-size="7.3">OMiAT</text>
<rect x="456.95" y="821.81" width="8.4" height="8.4" stroke="#EE0000" stroke-width="1.25" fill="none"/><path d="M456.95 821.81L465.35 830.21M456.95 830.21L465.35 821.81" stroke="#EE0000" stroke-width="1.25" fill="none"/>
<rect x="516.7" y="782.72" width="8.4" height="8.4" stroke="#EE0000" stroke-width="1.25" fill="none"/><path d="M516.7 782.72L525.1 791.12M516.7 791.12L525.1 782.72" stroke="#EE0000" stroke-width="1.25" fill="none"/>
<rect x="576.5" y="753.13" width="8.4" height="8.4" stroke="#EE0000" stroke-width="1.25" fill="none"/><path d="M576.5 753.13L584.9 761.53M576.5 761.53L584.9 753.13" stroke="#EE0000" stroke-width="1.25" fill="none"/>
<rect x="636.25" y="764.67" width="8.4" height="8.4" stroke="#EE0000" stroke-width="1.25" fill="none"/><path d="M636.25 764.67L644.65 773.07M636.25 773.07L644.65 764.67" stroke="#EE0000" stroke-width="1.25" fill="none"/>
<path d="M456.65 842.91L465.65 851.91M456.65 851.91L465.65 842.91M454.79 847.41H467.51M461.15 841.04V853.77" stroke="#9ACD32" stroke-width="1.25" fill="none"/>
<path d="M516.4 805.87L525.4 814.87M516.4 814.87L525.4 805.87M514.54 810.37H527.26M520.9 804.01V816.74" stroke="#9ACD32" stroke-width="1.25" fill="none"/>
<path d="M576.2 733.85L585.2 742.85M576.2 742.85L585.2 733.85M574.34 738.35H587.06M580.7 731.99V744.72" stroke="#9ACD32" stroke-width="1.25" fill="none"/>
<path d="M635.95 737.02L644.95 746.02M635.95 746.02L644.95 737.02M634.09 741.52H646.81M640.45 735.15V747.88" stroke="#9ACD32" stroke-width="1.25" fill="none"/>
<path d="M455.07 851.41H467.23M461.15 845.33V857.49" stroke="#EE82EE" stroke-width="1.25" fill="none"/><polygon points="455.07,851.41 461.15,845.33 467.23,851.41 461.15,857.49" stroke="#EE82EE" stroke-width="1.25" fill="none"/>
<path d="M514.82 832.15H526.98M520.9 826.07V838.23" stroke="#EE82EE" stroke-width="1.25" fill="none"/><polygon points="514.82,832.15 520.9,826.07 526.98,832.15 520.9,838.23" stroke="#EE82EE" stroke-width="1.25" fill="none"/>
<path d="M574.62 820.79H586.78M580.7 814.71V826.88" stroke="#EE82EE" stroke-width="1.25" fill="none"/><polygon points="574.62,820.79 580.7,814.71 586.78,820.79 580.7,826.88" stroke="#EE82EE" stroke-width="1.25" fill="none"/>
<path d="M634.37 784.88H646.53M640.45 778.8V790.96" stroke="#EE82EE" stroke-width="1.25" fill="none"/><polygon points="634.37,784.88 640.45,778.8 646.53,784.88 640.45,790.96" stroke="#EE82EE" stroke-width="1.25" fill="none"/>
<path d="M456.7 735.19H465.6M461.15 730.74V739.64" stroke="#A020F0" stroke-width="1.25" fill="none"/><circle cx="461.15" cy="735.19" r="4.45" stroke="#A020F0" stroke-width="1.25" fill="none"/>
<path d="M516.45 743.93H525.35M520.9 739.48V748.38" stroke="#A020F0" stroke-width="1.25" fill="none"/><circle cx="520.9" cy="743.93" r="4.45" stroke="#A020F0" stroke-width="1.25" fill="none"/>
<path d="M576.25 738.35H585.15M580.7 733.9V742.8" stroke="#A020F0" stroke-width="1.25" fill="none"/><circle cx="580.7" cy="738.35" r="4.45" stroke="#A020F0" stroke-width="1.25" fill="none"/>
<path d="M636 727.93H644.9M640.45 723.48V732.38" stroke="#A020F0" stroke-width="1.25" fill="none"/><circle cx="640.45" cy="727.93" r="4.45" stroke="#A020F0" stroke-width="1.25" fill="none"/>
<rect x="425.4" y="669.7" width="251" height="204.5" fill="none" stroke="#1e1e1e" stroke-width="1.45"/>
</svg>
</body></html>
